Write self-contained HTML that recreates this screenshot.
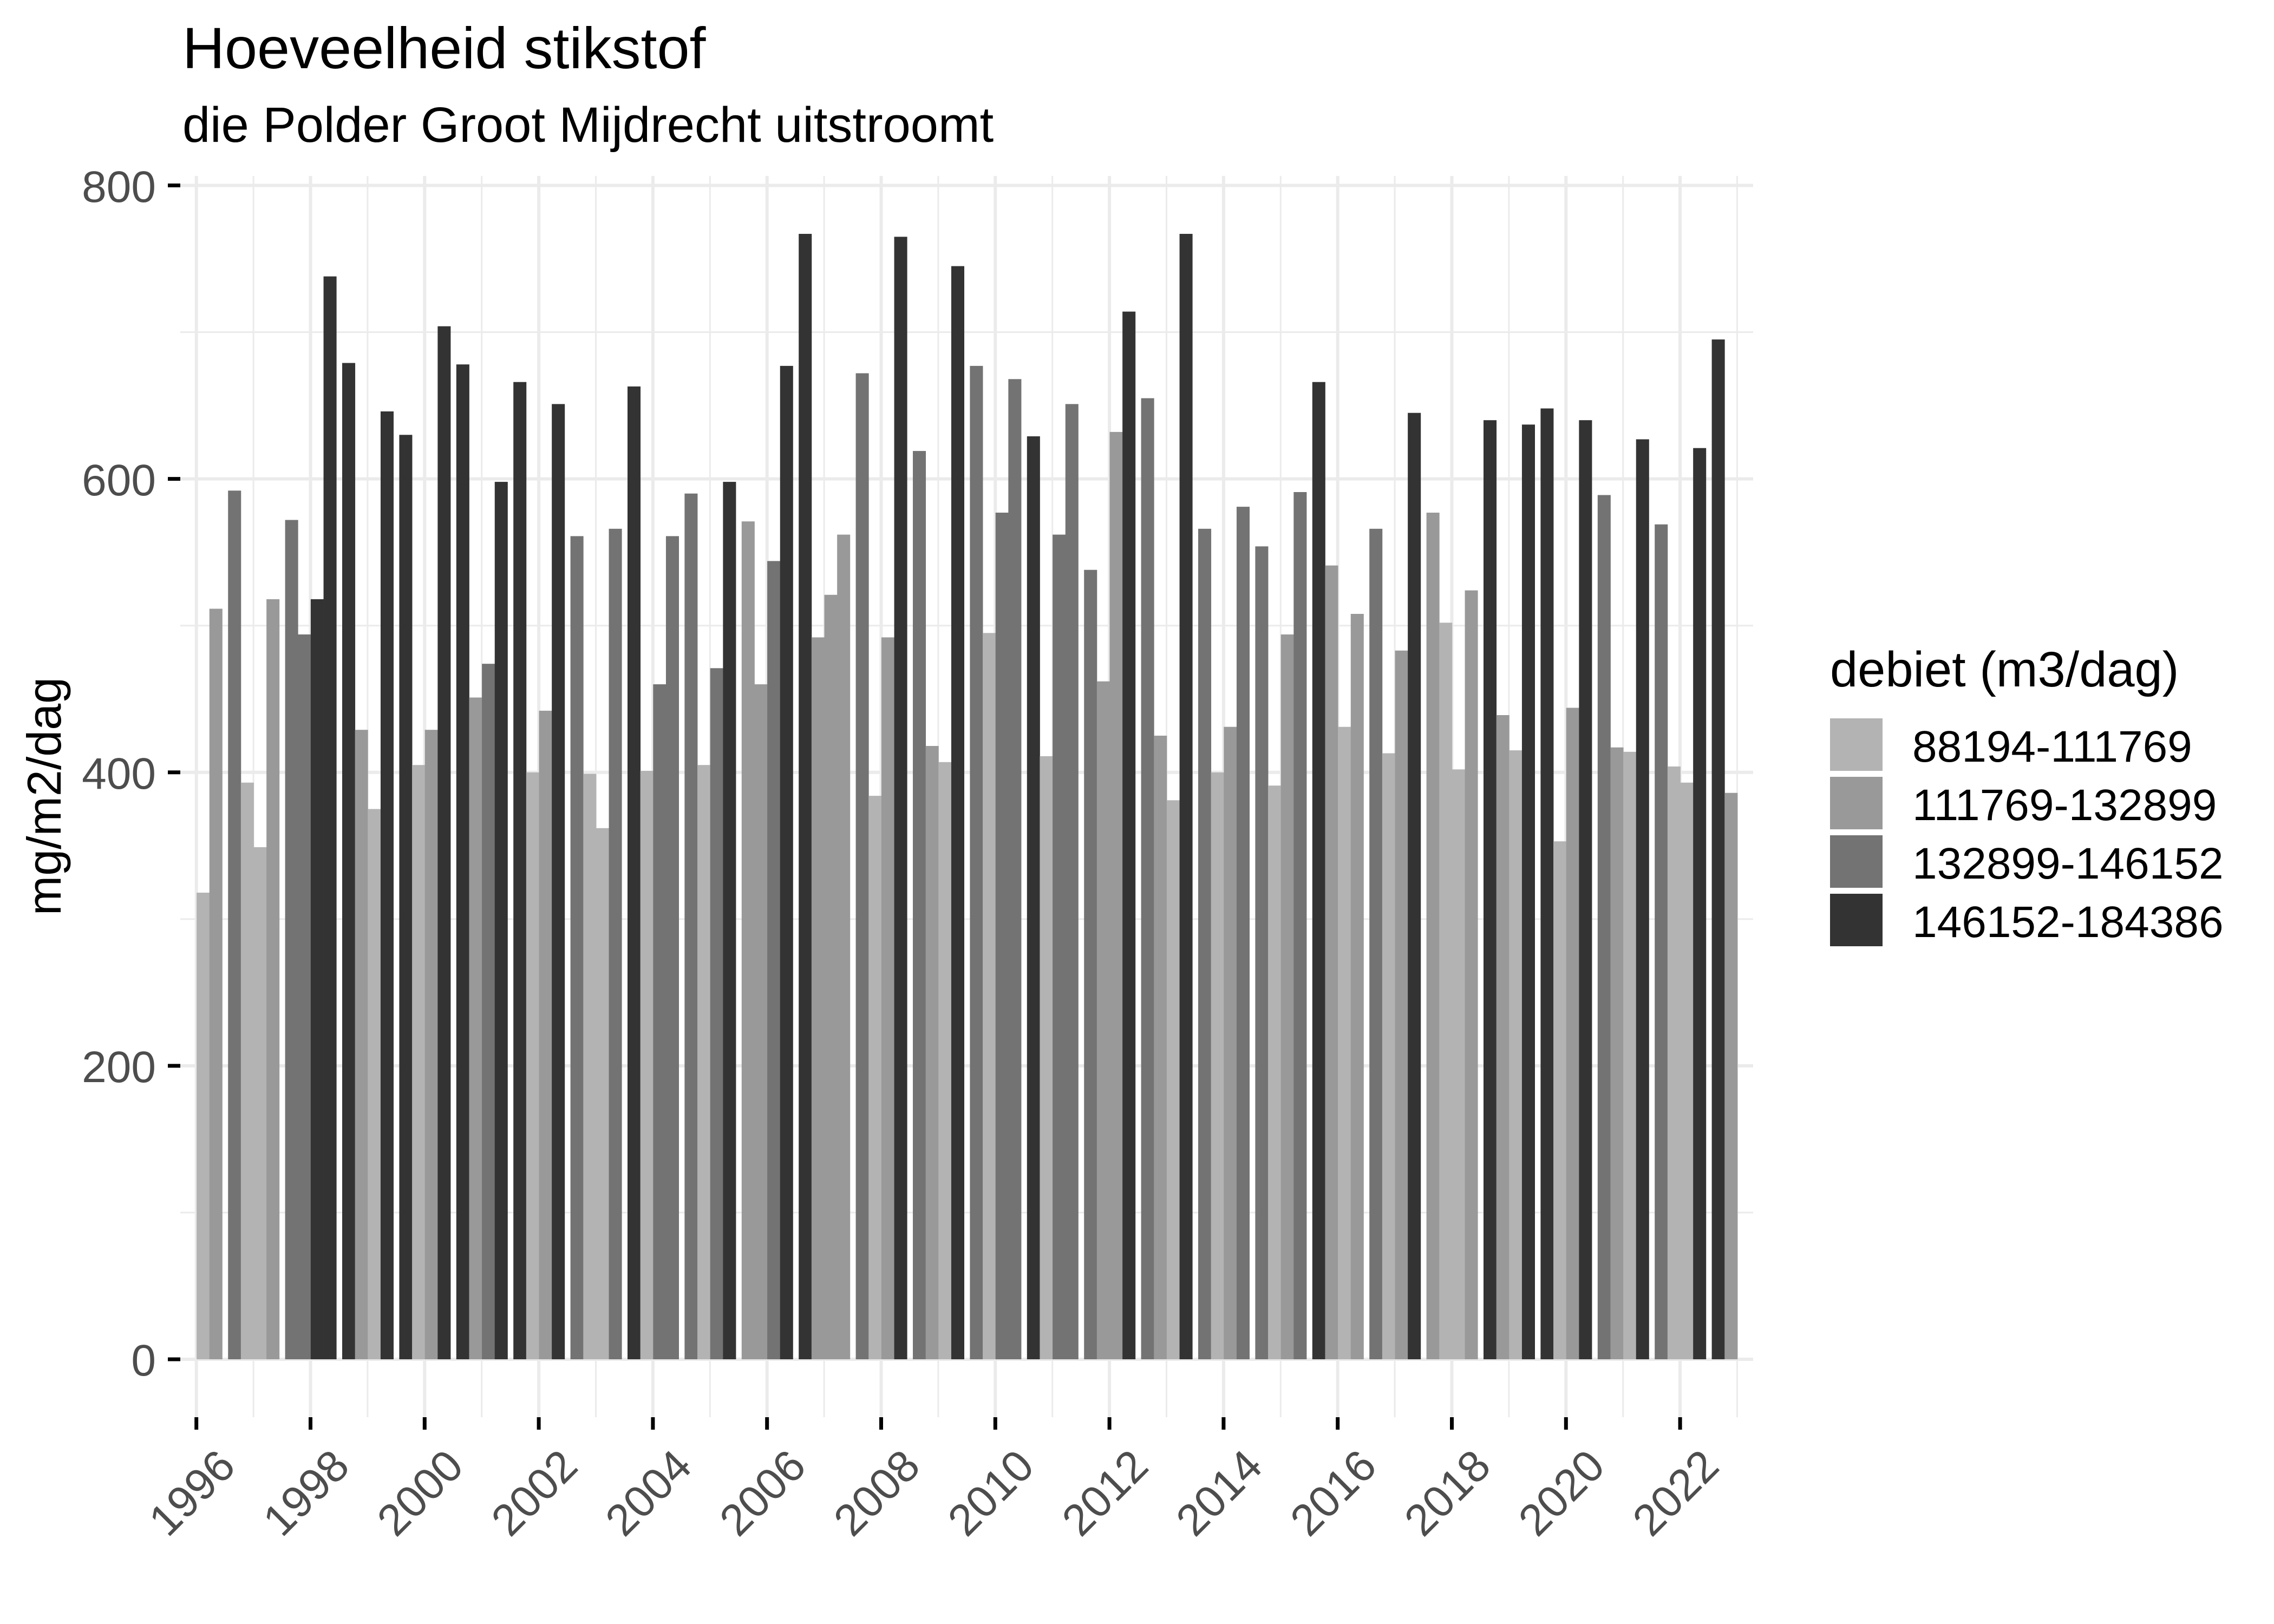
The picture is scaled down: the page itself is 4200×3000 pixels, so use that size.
<!DOCTYPE html>
<html><head><meta charset="utf-8"><style>
html,body{margin:0;padding:0;background:#fff;}
svg{display:block;font-family:"Liberation Sans",Arial,sans-serif;}
</style></head><body>
<svg id="s" width="4200" height="3000" viewBox="0 0 4200 3000" xmlns="http://www.w3.org/2000/svg">
<rect width="4200" height="3000" fill="#fff"/>
<g id="grid"></g>
<g id="bars"></g>
<g id="axes"></g>
<text x="337" y="126" font-size="108" fill="#000">Hoeveelheid stikstof</text>
<text x="337" y="262" font-size="92" fill="#000">die Polder Groot Mijdrecht uitstroomt</text>
<text transform="translate(112,1471) rotate(-90)" text-anchor="middle" font-size="88" fill="#000">mg/m2/dag</text>
<g font-size="82" fill="#4d4d4d" text-anchor="end">
<text x="288" y="2541">0</text>
<text x="288" y="1999">200</text>
<text x="288" y="1457">400</text>
<text x="288" y="915">600</text>
<text x="288" y="373">800</text>
</g>
<g id="xl" font-size="82" fill="#4d4d4d" text-anchor="end"></g>
<text x="3380" y="1268" font-size="92" fill="#000">debiet (m3/dag)</text>
<rect x="3380" y="1327" width="97" height="97" fill="#b3b3b3"/>
<rect x="3380" y="1435" width="97" height="97" fill="#999999"/>
<rect x="3380" y="1543" width="97" height="97" fill="#737373"/>
<rect x="3380" y="1651" width="97" height="97" fill="#333333"/>
<g font-size="82" fill="#000">
<text x="3532" y="1407">88194-111769</text>
<text x="3532" y="1515">111769-132899</text>
<text x="3532" y="1623">132899-146152</text>
<text x="3532" y="1731">146152-184386</text>
</g>
</svg>
<script>
var NS="http://www.w3.org/2000/svg";
function el(p,t,a,txt){var e=document.createElementNS(NS,t);for(var k in a)e.setAttribute(k,a[k]);if(txt!==undefined)e.textContent=txt;document.getElementById(p).appendChild(e);return e;}
var L0=333,R0=3238,T0=325,B0=2618;
function Y(v){return 2511-v*2.7106;}
function X(yr){return 362.7+(yr-1996)*105.4;}
for(var v=0;v<=800;v+=100){el("grid","rect",{x:L0,y:Y(v)-(v%200?1.5:3),width:R0-L0,height:(v%200?3:6),fill:"#ebebeb"});}
for(var yr=1996;yr<=2023;yr++){el("grid","rect",{x:X(yr)-(yr%2?1.5:3),y:T0,width:(yr%2?3:6),height:B0-T0,fill:"#ebebeb"});}
var C={L:"#b3b3b3",M:"#999999",D:"#737373",K:"#333333"};
var data=[
[[2,"L",318],[3,"M",511.5]],
["D592","L393","L349","M518"],
["D572","D494","K518","K738"],
["K679","M429","L375","K646"],
["K630","L405","M429","K704"],
["K678","M451","D474","K598"],
["K666","L400","M442","K651"],
["D561","L399","L362","D566"],
["K663","L401","D460","D561"],
["D590","L405","D471","K598"],
["M571","M460","D544","K677"],
["K767","M492","M521","M562"],
["D672","L384","M492","K765"],
["D619","M418","L407","K745"],
["D677","L495","D577","D668"],
["K629","L411","D562","D651"],
["D538","M462","M632","K714"],
["D655","M425","L381","K767"],
["D566","L400","M431","D581"],
["D554","L391","M494","D591"],
["K666","M541","L431","M508"],
["D566","L413","M483","K645"],
["M577","L502","L402","M524"],
["K640","M439","L415","K637"],
["K648","L353","M444","K640"],
["D589","M417","L414","K627"],
["D569","L404","L393","K621"],
["K695","M386"]
];
var W=23.65;
for(var i=0;i<data.length;i++){var g=i-1;
 for(var j=0;j<data[i].length;j++){var d=data[i][j],k,c,v;
  if(typeof d==="string"){k=j;c=d[0];v=parseFloat(d.slice(1));}else{k=d[0];c=d[1];v=d[2];}
  var x=421.2+g*105.4+k*W;
  el("bars","rect",{x:x.toFixed(2),y:Y(v).toFixed(1),width:(W+0.4).toFixed(2),height:(2511-Y(v)).toFixed(1),fill:C[c]});
 }}
for(var v=0;v<=800;v+=200){el("axes","rect",{x:310,y:Y(v)-3.5,width:23,height:7,fill:"#000"});}
for(var yr=1996;yr<=2022;yr+=2){el("axes","rect",{x:X(yr)-3.5,y:B0,width:7,height:23,fill:"#000"});
 el("xl","text",{transform:"translate("+(X(yr)+76).toFixed(1)+",2713) rotate(-45)"},String(yr));}
</script>
</body></html>
